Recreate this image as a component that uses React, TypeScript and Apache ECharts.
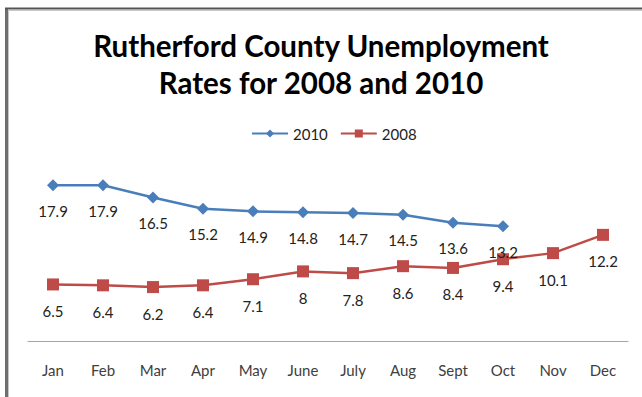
import React, { useEffect, useRef } from "react";
import * as echarts from "echarts";

const months = ["Jan", "Feb", "Mar", "Apr", "May", "June", "July", "Aug", "Sept", "Oct", "Nov", "Dec"];
const rates2010 = [17.9, 17.9, 16.5, 15.2, 14.9, 14.8, 14.7, 14.5, 13.6, 13.2, null, null];
const rates2008 = [6.5, 6.4, 6.2, 6.4, 7.1, 8, 7.8, 8.6, 8.4, 9.4, 10.1, 12.2];

const FONT = "Lato, 'Open Sans', sans-serif";

export default function App() {
  const ref = useRef<HTMLDivElement>(null);
  useEffect(() => {
    if (!ref.current) return;
    const chart = echarts.init(ref.current, undefined, { renderer: "svg" });
    chart.setOption({
      animation: false,
      backgroundColor: "#ffffff",
      title: {
        text: "Rutherford County Unemployment\nRates for 2008 and 2010",
        left: "center",
        top: 22,
        textStyle: {
          fontFamily: FONT,
          fontSize: 29.5,
          fontWeight: "bold",
          color: "#000000",
          lineHeight: 37,
        },
      },
      legend: {
        top: 121,
        left: 246,
        itemWidth: 36,
        itemHeight: 10,
        itemGap: 12,
        textStyle: { fontFamily: FONT, fontSize: 15, color: "#222" },
        data: ["2010", "2008"],
      },
      graphic: [
        { type: "line", shape: { x1: 6.5, y1: 8, x2: 6.5, y2: 397 }, style: { stroke: "#6e6e6e", lineWidth: 3 } },
        { type: "line", shape: { x1: 5, y1: 8.5, x2: 642, y2: 8.5 }, style: { stroke: "#555", lineWidth: 2 } },
        { type: "line", shape: { x1: 9, y1: 10.5, x2: 642, y2: 10.5 }, style: { stroke: "#c8c8c8", lineWidth: 1 } },
        { type: "line", shape: { x1: 8.5, y1: 10, x2: 8.5, y2: 397 }, style: { stroke: "#c8c8c8", lineWidth: 1 } },
      ],
      grid: { left: 28, right: 14, top: 167, bottom: 56, containLabel: false },
      xAxis: {
        type: "category",
        data: months,
        boundaryGap: true,
        axisLine: { lineStyle: { color: "#a6a6a6", width: 1 } },
        axisTick: { show: false },
        axisLabel: { fontFamily: FONT, fontSize: 15, color: "#404040", margin: 21 },
      },
      yAxis: {
        type: "value",
        min: 0,
        max: 20,
        show: false,
        splitLine: { show: false },
      },
      series: [
        {
          name: "2010",
          type: "line",
          data: rates2010,
          color: "#4a7ebb",
          symbol: "diamond",
          symbolSize: 12,
          lineStyle: { width: 2.5, color: "#4a7ebb" },
          itemStyle: { color: "#4a7ebb" },
          label: {
            show: true,
            position: "bottom",
            distance: 12,
            fontFamily: FONT,
            fontSize: 15,
            color: "#222",
          },
        },
        {
          name: "2008",
          type: "line",
          data: rates2008,
          color: "#be4b48",
          symbol: "rect",
          symbolSize: 12,
          lineStyle: { width: 2.5, color: "#be4b48" },
          itemStyle: { color: "#be4b48" },
          label: {
            show: true,
            position: "bottom",
            distance: 13,
            fontFamily: FONT,
            fontSize: 15,
            color: "#222",
          },
        },
      ],
    });
    return () => chart.dispose();
  }, []);
  return (
    <div
      ref={ref}
      style={{ position: "fixed", left: 0, top: 0, width: 642, height: 397 }}
    />
  );
}
